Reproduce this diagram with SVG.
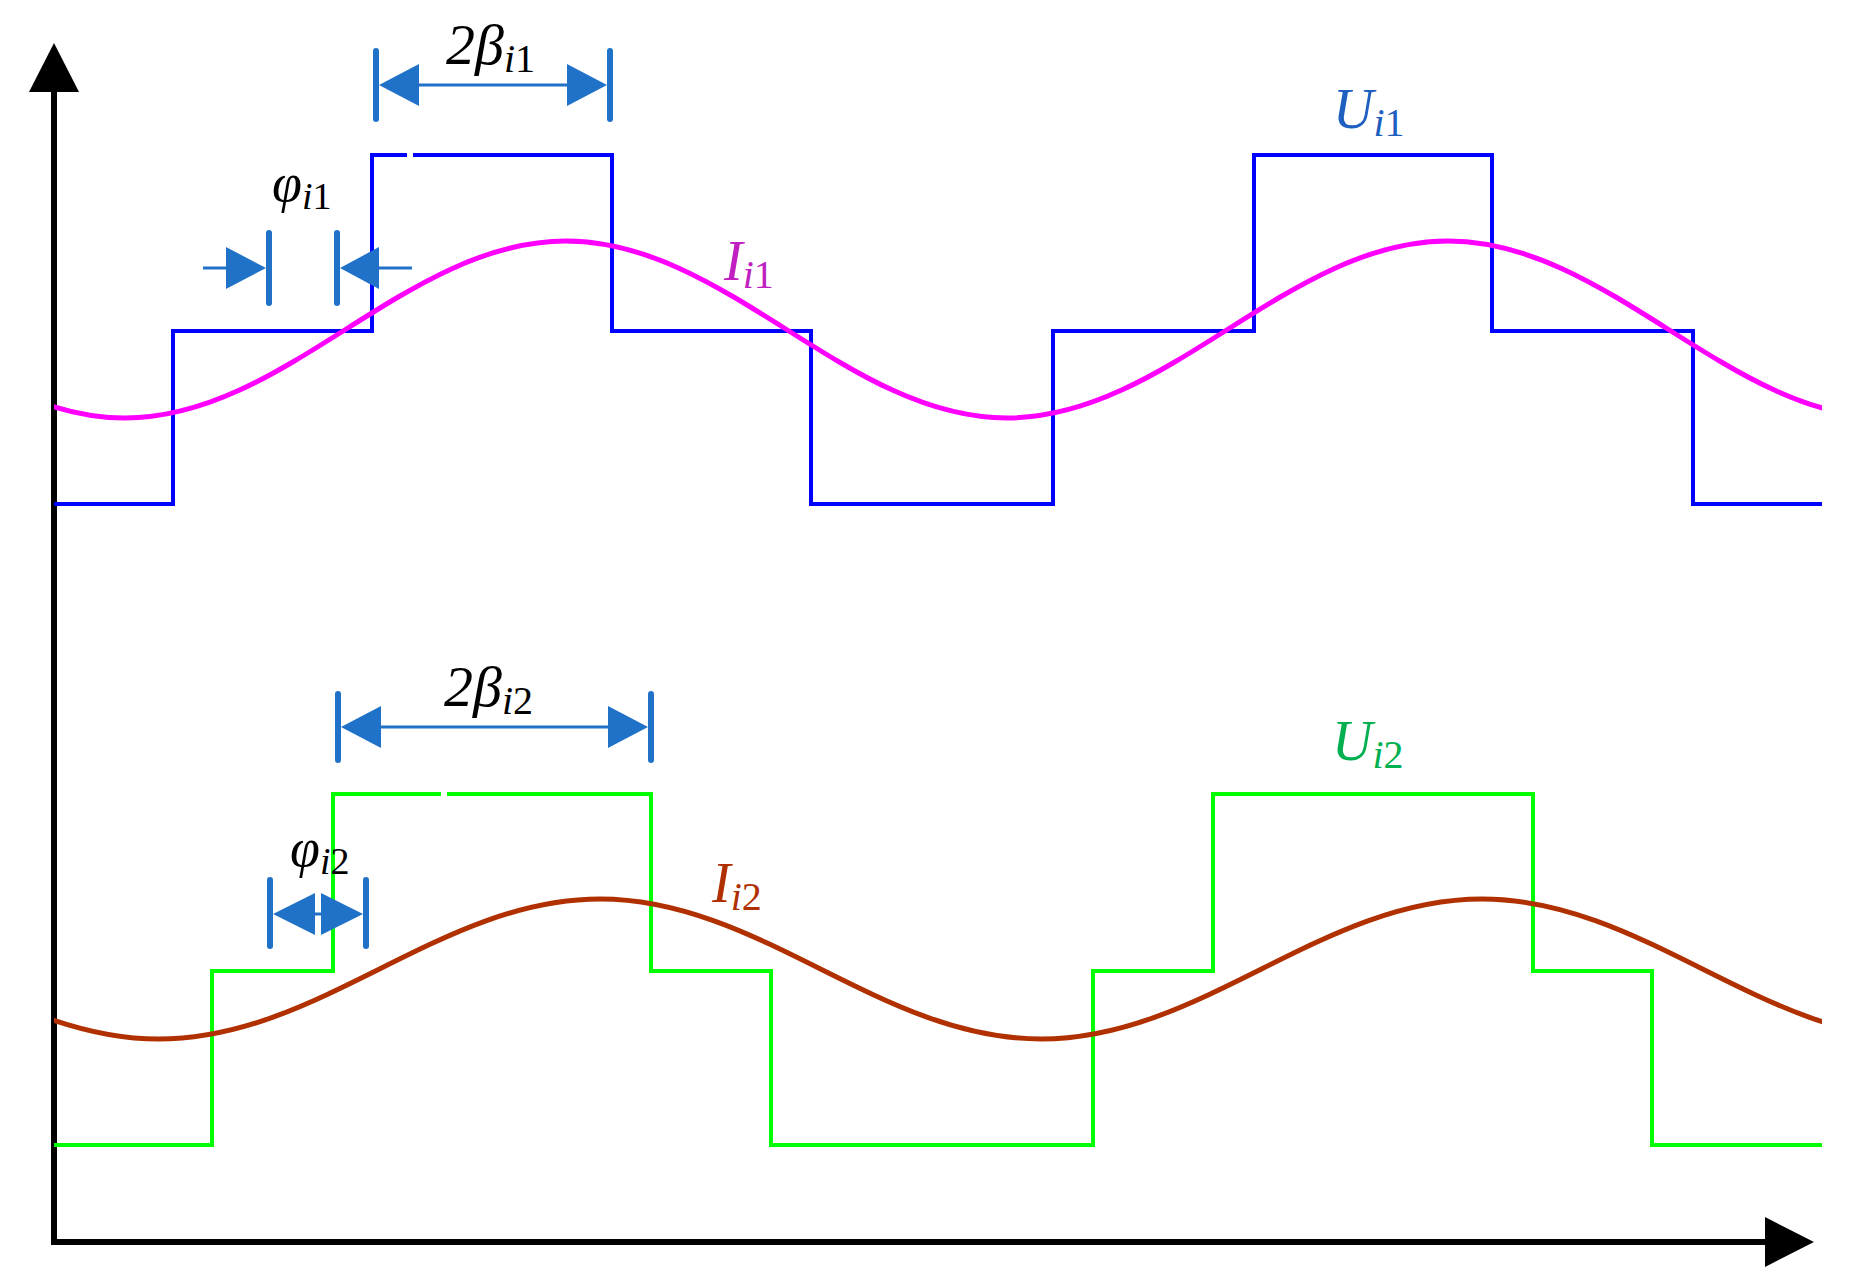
<svg xmlns="http://www.w3.org/2000/svg" width="1869" height="1288" viewBox="0 0 1869 1288">
<style>
.t{font-family:"Liberation Serif",serif;font-style:italic;}
.n{font-style:normal;}
.dim{stroke:#1F72C8;fill:none;}
.ah{fill:#1F72C8;}
.u{fill:none;stroke-width:4;stroke-linejoin:miter;}
</style>
<defs><clipPath id="c"><rect x="54" y="0" width="1768" height="1288"/></clipPath></defs>
<rect width="1869" height="1288" fill="#fff"/>
<g id="axes">
<line x1="54" y1="1242" x2="54" y2="88" stroke="#000" stroke-width="6"/>
<polygon points="54,43 29,92 79,92" fill="#000"/>
<line x1="51" y1="1242" x2="1770" y2="1242" stroke="#000" stroke-width="6"/>
<polygon points="1814,1242 1765,1217 1765,1267" fill="#000"/>
</g>
<g id="Ui1">
<path class="u" stroke="#0000FF" d="M54 504 H173 V331 H372 V155 H407 M413 155 H612 V331 H811 V504 H1053 V331 H1254 V155 H1492 V331 H1693 V504 H1822"/>
</g>
<g id="Ii1" clip-path="url(#c)">
<path fill="none" stroke="#FF00FF" stroke-width="5" d="M -316 241 C -155.4 241 -35.4 418 125 418 C 285.6 418 405.4 241 566 241 C 726.6 241 846.4 418 1007 418 C 1167.6 418 1287.4 241 1448 241 C 1608.6 241 1728.4 418 1889 418"/>
</g>
<g id="Ui2">
<path class="u" stroke="#00FF00" d="M54 1145 H212 V971 H333 V794 H441 M447 794 H651 V971 H771 V1145 H1093 V971 H1213 V794 H1533 V971 H1652 V1145 H1822"/>
</g>
<g id="Ii2" clip-path="url(#c)">
<path fill="none" stroke="#B03000" stroke-width="5" d="M -282 899 C -121.4 899 -1.6 1039 159 1039 C 319.6 1039 439.4 899 600 899 C 760.6 899 880.4 1039 1041 1039 C 1201.6 1039 1321.4 899 1482 899 C 1642.6 899 1762.4 1039 1923 1039"/>
</g>
<g id="dim-beta1">
<line class="dim" x1="376" y1="51" x2="376" y2="119" stroke-width="6" stroke-linecap="round"/>
<line class="dim" x1="610" y1="51" x2="610" y2="119" stroke-width="6" stroke-linecap="round"/>
<line class="dim" x1="400" y1="85" x2="580" y2="85" stroke-width="3"/>
<polygon class="ah" points="379,85 419,64 419,106"/>
<polygon class="ah" points="607,85 567,64 567,106"/>
</g>
<g id="dim-phi1">
<line class="dim" x1="269" y1="233" x2="269" y2="303" stroke-width="6" stroke-linecap="round"/>
<line class="dim" x1="337" y1="233" x2="337" y2="303" stroke-width="6" stroke-linecap="round"/>
<line class="dim" x1="203" y1="268" x2="240" y2="268" stroke-width="3"/>
<line class="dim" x1="360" y1="268" x2="412" y2="268" stroke-width="3"/>
<polygon class="ah" points="266,268 226,247 226,289"/>
<polygon class="ah" points="340,268 379,247 379,289"/>
</g>
<g id="dim-beta2">
<line class="dim" x1="338" y1="694" x2="338" y2="760" stroke-width="6" stroke-linecap="round"/>
<line class="dim" x1="651" y1="694" x2="651" y2="760" stroke-width="6" stroke-linecap="round"/>
<line class="dim" x1="360" y1="727" x2="630" y2="727" stroke-width="3"/>
<polygon class="ah" points="341,727 381,706 381,748"/>
<polygon class="ah" points="648,727 608,706 608,748"/>
</g>
<g id="dim-phi2">
<line class="dim" x1="270" y1="880" x2="270" y2="946" stroke-width="6" stroke-linecap="round"/>
<line class="dim" x1="366" y1="880" x2="366" y2="946" stroke-width="6" stroke-linecap="round"/>
<line class="dim" x1="290" y1="914" x2="346" y2="914" stroke-width="3"/>
<polygon class="ah" points="273,914 315,893 315,935"/>
<polygon class="ah" points="363,914 321,893 321,935"/>
</g>
<g id="labels">
<text class="t" x="446" y="64" font-size="58" fill="#000">2β<tspan font-size="40" dy="8">i</tspan><tspan class="n" font-size="40">1</tspan></text>
<text class="t" x="272" y="201" font-size="54" fill="#000">φ<tspan font-size="38" dy="8">i</tspan><tspan class="n" font-size="38">1</tspan></text>
<text class="t" x="724" y="280" font-size="56" fill="#C020C0">I<tspan font-size="40" dy="8">i</tspan><tspan class="n" font-size="40">1</tspan></text>
<text class="t" x="1333" y="128" font-size="56" fill="#1F5FC0">U<tspan font-size="40" dy="8">i</tspan><tspan class="n" font-size="40">1</tspan></text>
<text class="t" x="444" y="706" font-size="58" fill="#000">2β<tspan font-size="40" dy="8">i</tspan><tspan class="n" font-size="40">2</tspan></text>
<text class="t" x="290" y="866" font-size="54" fill="#000">φ<tspan font-size="38" dy="8">i</tspan><tspan class="n" font-size="38">2</tspan></text>
<text class="t" x="712" y="902" font-size="56" fill="#B03000">I<tspan font-size="40" dy="8">i</tspan><tspan class="n" font-size="40">2</tspan></text>
<text class="t" x="1332" y="760" font-size="56" fill="#00B050">U<tspan font-size="40" dy="8">i</tspan><tspan class="n" font-size="40">2</tspan></text>
</g>
</svg>
